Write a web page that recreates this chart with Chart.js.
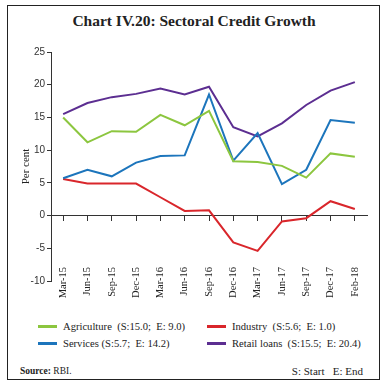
<!DOCTYPE html>
<html>
<head>
<meta charset="utf-8">
<script src="https://cdn.jsdelivr.net/npm/chart.js@4/dist/chart.umd.min.js"></script>
<style>
  html, body { margin: 0; padding: 0; background: #fff; }
  body { width: 388px; height: 387px; position: relative; overflow: hidden;
         font-family: "Liberation Serif", "DejaVu Serif", serif; color: #222; }
  #frame { position: absolute; left: 7px; top: 5px; width: 373px; height: 375px;
           border: 1.5px solid #222; box-sizing: border-box; }
  #title { position: absolute; left: 0; top: 12px; width: 388px; text-align: center;
           font-weight: bold; font-size: 15.5px; color: #222; }
  #chart { position: absolute; left: 0; top: 0; }
  #legend { position: absolute; left: 38px; top: 321px; font-size: 10.6px; }
  .item { position: absolute; white-space: nowrap; }
  .swatch { display: inline-block; width: 19px; height: 3px; vertical-align: middle;
            margin-right: 6px; position: relative; top: -1px; }
  #source { position: absolute; left: 20px; top: 366px; font-size: 9.5px; }
  #se { position: absolute; right: 25px; top: 365px; font-size: 11px; }
</style>
</head>
<body>
<div id="frame"></div>
<div id="title">Chart IV.20: Sectoral Credit Growth</div>
<canvas id="chart" width="388" height="320"></canvas>
<div id="legend"></div>
<div id="source"><b>Source:</b> RBI.</div>
<div id="se">S: Start&nbsp;&nbsp; E: End</div>
<script>
// data
const quarters = ['Mar-15', 'Jun-15', 'Sep-15', 'Dec-15', 'Mar-16', 'Jun-16', 'Sep-16',
  'Dec-16', 'Mar-17', 'Jun-17', 'Sep-17', 'Dec-17', 'Feb-18'];
const agriculture = [15.0, 11.2, 12.9, 12.8, 15.4, 13.8, 16.0, 8.3, 8.2, 7.6, 5.8, 9.5, 9.0];
const industry = [5.6, 4.9, 4.9, 4.9, 2.8, 0.7, 0.8, -4.1, -5.4, -0.9, -0.4, 2.2, 1.0];
const services = [5.7, 7.0, 6.0, 8.1, 9.1, 9.2, 18.5, 8.4, 12.6, 4.8, 7.0, 14.6, 14.2];
const retailLoans = [15.5, 17.2, 18.1, 18.6, 19.4, 18.5, 19.7, 13.5, 12.1, 14.1, 16.9, 19.1, 20.4];
const yTicks = [-10, -5, 0, 5, 10, 15, 20, 25];

const seriesNames = ['Agriculture  (S:15.0;  E: 9.0)', 'Services (S:5.7;  E: 14.2)',
  'Industry  (S:5.6;  E: 1.0)', 'Retail loans  (S:15.5;  E: 20.4)'];
const seriesData = [agriculture, services, industry, retailLoans];
const seriesColors = ['#8cc63f', '#1c75bc', '#d9262b', '#5c2e91'];

const axisColor = '#333';
const tickFont = { family: '"Liberation Serif", serif', size: 10.5 };

new Chart(document.getElementById('chart'), {
  type: 'line',
  data: {
    labels: quarters,
    datasets: seriesData.map((d, i) => ({
      label: seriesNames[i],
      data: d,
      borderColor: seriesColors[i],
      backgroundColor: seriesColors[i],
      borderWidth: 2,
      pointRadius: 0,
      tension: 0,
      xAxisID: 'x'
    }))
  },
  options: {
    responsive: false,
    animation: false,
    layout: { padding: { left: 20, right: 21, top: 52, bottom: 39 } },
    plugins: { legend: { display: false }, tooltip: { enabled: false } },
    scales: {
      // axis line across zero with small tick marks
      x: {
        type: 'category',
        position: { y: 0 },
        offset: true,
        grid: { display: true, drawOnChartArea: false, tickLength: 5, color: axisColor, lineWidth: 1 },
        border: { display: true, color: axisColor, width: 1 },
        ticks: { display: false }
      },
      // rotated labels near the bottom of the y range
      x2: {
        type: 'category',
        position: { y: -10 },
        offset: true,
        grid: { display: false },
        border: { display: false },
        ticks: { color: '#222', font: tickFont, minRotation: 90, maxRotation: 90, autoSkip: false, padding: -22 }
      },
      y: {
        min: -10,
        max: 25,
        afterBuildTicks: (s) => { s.ticks = yTicks.map((v) => ({ value: v })); },
        grid: { display: true, drawOnChartArea: false, tickLength: 4, color: axisColor },
        border: { display: true, color: axisColor, width: 1 },
        ticks: { color: '#333', font: { family: '"Liberation Sans", sans-serif', size: 10 }, padding: 2 },
        title: { display: true, text: 'Per cent', color: '#222', font: { family: '"Liberation Serif", serif', size: 11 }, padding: 0 },
        afterFit: (s) => { s.width = 31; }
      }
    }
  }
});

// legend in two columns
const legend = document.getElementById('legend');
const spots = [[0, 0], [0, 17], [169, 0], [169, 17]];
seriesNames.forEach((name, i) => {
  const el = document.createElement('div');
  el.className = 'item';
  el.style.left = spots[i][0] + 'px';
  el.style.top = spots[i][1] + 'px';
  el.innerHTML = '<span class="swatch" style="background:' + seriesColors[i] + '"></span>' + name.replace(/  /g, '&nbsp; ');
  legend.appendChild(el);
});
</script>
</body>
</html>
